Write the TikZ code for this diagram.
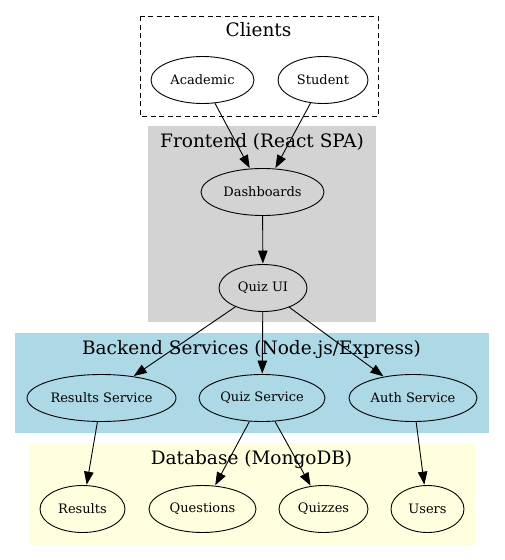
\documentclass[tikz,border=0pt]{standalone}
\usepackage{fontspec}
\setmainfont{DejaVu Serif}
\usetikzlibrary{shapes.geometric,arrows.meta}
\definecolor{frontgray}{HTML}{D3D3D3}
\definecolor{backblue}{HTML}{ADD8E6}
\definecolor{dbyellow}{HTML}{FFFFE0}
\tikzset{
  gnode/.style={ellipse,draw=black,line width=0.9pt,minimum height=47pt,inner sep=0pt,font=\fontsize{13}{15}\selectfont},
  ctitle/.style={anchor=base,inner sep=0pt,font=\fontsize{18.5}{22}\selectfont},
  edge/.style={draw=black,line width=0.9pt,-{Triangle[length=13pt,width=9.5pt]},shorten >=0.5pt},
}
\begin{document}
\begin{tikzpicture}[x=1pt,y=-1pt]
\useasboundingbox (0,0) rectangle (504,560);
\fill[white] (0,0) rectangle (504,560);
% clusters
\draw[dashed,line width=0.9pt,dash pattern=on 5pt off 3.5pt] (140,16) rectangle (378,116);
\fill[frontgray] (148,126) rectangle (376,322);
\fill[backblue] (15,333) rectangle (489,433);
\fill[dbyellow] (29,443) rectangle (475,545);
% titles
\node[ctitle] (tclients) at (258.5,36) {Clients};
\node[ctitle] (tfront) at (262,147) {Frontend (React SPA)};
\node[ctitle] (tback) at (251.5,354) {Backend Services (Node.js/Express)};
\node[ctitle] (tdb) at (251.5,464) {Database (MongoDB)};
% nodes
\node[gnode,minimum width=103pt] (academic) at (202.5,80) {Academic};
\node[gnode,minimum width=90pt] (student) at (323,80) {Student};
\node[gnode,minimum width=123pt] (dash) at (262.5,192) {Dashboards};
\node[gnode,minimum width=88pt] (quizui) at (263,288) {Quiz UI};
\node[gnode,minimum width=149pt] (ress) at (101.5,398) {Results Service};
\node[gnode,minimum width=126pt] (quizs) at (262,398) {Quiz Service};
\node[gnode,minimum width=128pt] (auths) at (413,398) {Auth Service};
\node[gnode,minimum width=85pt] (results) at (82.5,509) {Results};
\node[gnode,minimum width=107pt] (questions) at (202.5,509) {Questions};
\node[gnode,minimum width=89pt] (quizzes) at (323.5,509) {Quizzes};
\node[gnode,minimum width=73pt] (users) at (427.5,509) {Users};
% edges
\draw[edge] (academic) -- (dash);
\draw[edge] (student) -- (dash);
\draw[edge] (dash) -- (quizui);
\draw[edge] (quizui) -- (ress);
\draw[edge] (quizui) -- (quizs);
\draw[edge] (quizui) -- (auths);
\draw[edge] (ress) -- (results);
\draw[edge] (quizs) -- (questions);
\draw[edge] (quizs) -- (quizzes);
\draw[edge] (auths) -- (users);
\end{tikzpicture}
\end{document}
